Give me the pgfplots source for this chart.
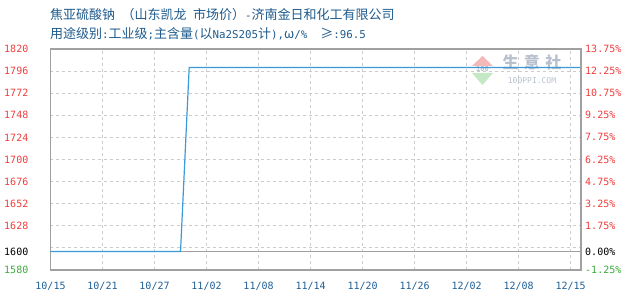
\documentclass[border=0pt]{standalone}
\usepackage{pgfplots}
\pgfplotsset{compat=1.18}
\usepackage{pgfplotstable}
\usepackage{fontspec}
\newfontfamily\cjk{Noto Sans CJK SC}
\newfontfamily\numfont{DejaVu Sans Mono}
% half-width (ASCII) runs inside the title
\newcommand\hw[1]{{\numfont\fontsize{10.8}{15}\selectfont #1}}

\definecolor{titleblue}{HTML}{1E5A8C}
\definecolor{tickblue}{HTML}{1F5F96}
\definecolor{tred}{HTML}{F03C3C}
\definecolor{tgreen}{HTML}{3CAA3C}
\definecolor{framegray}{HTML}{A0A0A0}
\definecolor{gridgray}{HTML}{CCCCCC}
\definecolor{lineblue}{HTML}{3A9AD9}
\definecolor{wmtext}{HTML}{B8C0CE}
\definecolor{wmred}{HTML}{F4B8B8}
\definecolor{wmgreen}{HTML}{C4E8C4}

% day index (0 = 10/15) and price
\pgfplotstableread{
x y
0 1600
15 1600
16 1800
61.2 1800
}\pricedata

\begin{document}
\begin{tikzpicture}
\useasboundingbox (0,0) rectangle (630pt,300pt);

% title
\node[anchor=base west, inner sep=0pt, text=titleblue, font=\cjk\fontsize{13}{15}\selectfont]
  at (50pt,280.5pt) {焦亚硫酸钠\hw{\ }（山东凯龙\hw{\ }市场价）\hw{-}济南金日和化工有限公司};
\node[anchor=base west, inner sep=0pt, text=titleblue, font=\cjk\fontsize{13}{15}\selectfont]
  at (50pt,261pt) {用途级别\hw{:}工业级\hw{;}主含量\hw{(}以\hw{Na2S205}计\hw{),}ω\hw{/\%\ \ }≥\hw{:96.5}};

% watermark
\fill[wmred] (472pt,234pt) -- (493pt,234pt) -- (482.5pt,244pt) -- cycle;
\fill[wmgreen] (472pt,227pt) -- (493pt,227pt) -- (482.5pt,215pt) -- cycle;
\node[text=wmtext, inner sep=0pt, font=\numfont\bfseries\fontsize{7}{7}\selectfont] at (482.5pt,231pt) {100};
\node[text=wmtext, inner sep=0pt, font=\cjk\bfseries\fontsize{16}{16}\selectfont] at (532pt,238pt) {生\,\,意\,\,社};
\node[text=wmtext, inner sep=0pt, font=\numfont\fontsize{8}{8}\selectfont] at (532pt,219.5pt) {100PPI.COM};

\begin{axis}[
  at={(50.5pt,30pt)}, anchor=south west,
  width=530.5pt, height=221pt, scale only axis,
  xmin=0, xmax=61.2, ymin=1580, ymax=1820,
  axis line style={framegray, line width=1.2pt},
  major tick length=0pt,
  grid=major,
  major grid style={gridgray, dash pattern=on 3pt off 3pt, line width=0.8pt},
  xtick={0,6,...,60},
  xticklabels={10/15,10/21,10/27,11/02,11/08,11/14,11/20,11/26,12/02,12/08,12/15},
  xticklabel style={anchor=north, inner sep=0pt, yshift=-12pt, text=tickblue,
    font=\numfont\fontsize{10}{12}\selectfont},
  ytick={1580,1600,1604,1628,1652,1676,1700,1724,1748,1772,1796,1820},
  yticklabels={\textcolor{tgreen}{1580},\textcolor{black}{1600},{},1628,1652,1676,1700,1724,1748,1772,1796,1820},
  yticklabel style={anchor=east, inner sep=0pt, xshift=-22pt, text=tred,
    font=\numfont\fontsize{10}{12}\selectfont},
  clip=false,
]
  \addplot[framegray, line width=1.2pt, forget plot] coordinates {(0,1600) (61.2,1600)};
  \addplot[lineblue, line width=1.2pt, mark=none] table[x=x, y=y] {\pricedata};
\end{axis}

\begin{axis}[
  at={(50.5pt,30pt)}, anchor=south west,
  width=530.5pt, height=221pt, scale only axis,
  xmin=0, xmax=61.2, ymin=-1.25, ymax=13.75,
  axis x line=none,
  axis y line*=right,
  axis line style={framegray, line width=1.2pt, -},
  major tick length=0pt,
  ytick={-1.25,0,1.75,3.25,4.75,6.25,7.75,9.25,10.75,12.25,13.75},
  yticklabels={\textcolor{tgreen}{-1.25\%},\textcolor{black}{0.00\%},1.75\%,3.25\%,4.75\%,6.25\%,7.75\%,9.25\%,10.75\%,12.25\%,13.75\%},
  yticklabel style={anchor=west, inner sep=0pt, xshift=4pt, text=tred,
    font=\numfont\fontsize{10}{12}\selectfont},
]
\end{axis}
\end{tikzpicture}
\end{document}
